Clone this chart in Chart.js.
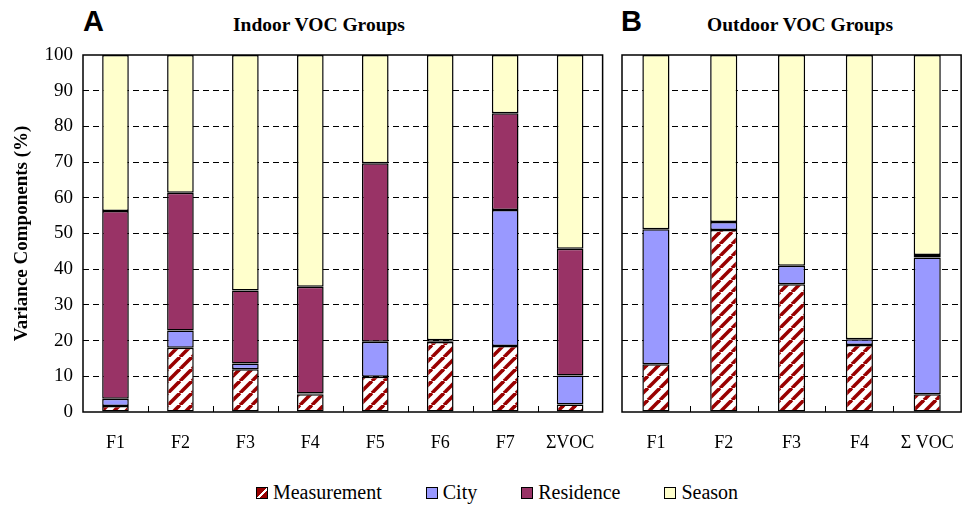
<!DOCTYPE html>
<html>
<head>
<meta charset="utf-8">
<script src="https://cdn.jsdelivr.net/npm/chart.js@4.4.1/dist/chart.umd.min.js"></script>
<style>
  body { margin: 0; background: #fff; }
  #wrap { position: relative; width: 974px; height: 510px; background: #fff; overflow: hidden; }
  .box { position: absolute; }
  .letter { position: absolute; font: bold 29px "Liberation Sans", Arial, sans-serif; top: 5px; }
  .ttl { position: absolute; font: bold 19.5px "Liberation Serif", "Times New Roman", serif; top: 14px; white-space: nowrap; }
  #legend { position: absolute; left: 0; width: 974px; top: 481px; display: flex; justify-content: center; gap: 44px;
    font: 20px "Liberation Serif", "Times New Roman", serif; padding-left: 20px; box-sizing: border-box; }
  #legend .item { display: flex; align-items: center; gap: 5px; }
  #legend .sw { width: 10px; height: 10px; border: 1.5px solid #000; }
</style>
</head>
<body>
<div id="wrap">
  <div class="letter" style="left:83px">A</div>
  <div class="ttl" style="left:233px">Indoor VOC Groups</div>
  <div class="letter" style="left:621px">B</div>
  <div class="ttl" style="left:707px">Outdoor VOC Groups</div>
  <div class="box" style="left:0;top:33px;width:615px;height:427px"><canvas id="chartA"></canvas></div>
  <div class="box" style="left:612px;top:40px;width:362px;height:420px"><canvas id="chartB"></canvas></div>
  <div id="legend"></div>
</div>
<script>
const seriesNames = ["Measurement", "City", "Residence", "Season"];

const indoorLabels = ["F1", "F2", "F3", "F4", "F5", "F6", "F7", "ΣVOC"];
const indoorMeasurement = [1.7, 18.0, 12.0, 5.0, 9.9, 19.6, 18.5, 2.1];
const indoorCity = [2.0, 4.8, 1.6, 0.2, 9.8, 0.1, 38.1, 8.1];
const indoorResidence = [52.6, 38.6, 20.4, 29.9, 50.0, 0.4, 27.1, 35.5];
const indoorSeason = [43.7, 38.6, 66.0, 64.9, 30.3, 79.9, 16.3, 54.3];

const outdoorLabels = ["F1", "F2", "F3", "F4", "Σ VOC"];
const outdoorMeasurement = [13.4, 51.0, 35.8, 18.8, 5.0];
const outdoorCity = [37.8, 2.2, 5.2, 1.6, 38.3];
const outdoorResidence = [0, 0, 0, 0, 0.7];
const outdoorSeason = [48.8, 46.8, 59.0, 79.6, 56.0];

const yTicks = [0, 10, 20, 30, 40, 50, 60, 70, 80, 90, 100];

const colCity = "#9999ff";
const colRes = "#993366";
const colSeason = "#ffffcc";
const colHatch = "#990000";
const serif = "'Liberation Serif', 'Times New Roman', serif";

function makeHatch() {
  const s = 12;
  const c = document.createElement("canvas");
  c.width = c.height = s;
  const g = c.getContext("2d");
  g.fillStyle = "#fff";
  g.fillRect(0, 0, s, s);
  g.strokeStyle = colHatch;
  g.lineWidth = 3.6;
  for (const o of [-s, 0, s]) {
    g.beginPath();
    g.moveTo(o, s);
    g.lineTo(o + s, 0);
    g.stroke();
  }
  return g.createPattern(c, "repeat");
}
const hatch = makeHatch();

// frame round the plot + small inner ticks between categories
const framePlugin = {
  id: "frame",
  afterDatasetsDraw(chart) {
    const { ctx, chartArea: a, scales: { x } } = chart;
    ctx.save();
    ctx.strokeStyle = "#000";
    ctx.lineWidth = 1.5;
    ctx.strokeRect(a.left, a.top, a.right - a.left, a.bottom - a.top);
    ctx.lineWidth = 1;
    ctx.beginPath();
    const n = chart.data.labels.length;
    for (let i = 0; i < n - 1; i++) {
      const px = Math.round((x.getPixelForValue(i) + x.getPixelForValue(i + 1)) / 2) + 0.5;
      ctx.moveTo(px, a.bottom);
      ctx.lineTo(px, a.bottom - 6);
    }
    ctx.stroke();
    ctx.restore();
  }
};

function makeDatasets(m, c, r, s, bp) {
  const base = { borderColor: "#000", borderWidth: 1.5, borderSkipped: false, barPercentage: bp, categoryPercentage: 1 };
  return [
    { ...base, label: seriesNames[0], data: m, backgroundColor: hatch },
    { ...base, label: seriesNames[1], data: c, backgroundColor: colCity },
    { ...base, label: seriesNames[2], data: r, backgroundColor: colRes },
    { ...base, label: seriesNames[3], data: s, backgroundColor: colSeason }
  ];
}

function makeChart(id, labels, datasets, showY, padding, yWidth) {
  return new Chart(document.getElementById(id), {
    type: "bar",
    data: { labels, datasets },
    plugins: [framePlugin],
    options: {
      responsive: true,
      maintainAspectRatio: false,
      animation: false,
      layout: { padding, autoPadding: false },
      plugins: { legend: { display: false }, tooltip: { enabled: false } },
      scales: {
        x: {
          stacked: true,
          grid: { display: false, drawTicks: false },
          border: { display: false },
          afterFit: (ax) => { ax.height = 48; },
          ticks: { color: "#000", padding: 20, maxRotation: 0, font: { family: serif, size: 18 } }
        },
        y: {
          stacked: true,
          min: 0,
          max: 100,
          afterBuildTicks: (ax) => { ax.ticks = yTicks.map(v => ({ value: v })); },
          afterFit: (ax) => { ax.width = yWidth; },
          grid: {
            drawTicks: false,
            lineWidth: 1,
            color: (c) => (c.tick && c.tick.value > 0 && c.tick.value < 100) ? "#000" : "rgba(0,0,0,0)"
          },
          border: { display: false, dash: [6, 4] },
          ticks: { display: showY, color: "#000", padding: 10, font: { family: serif, size: 19 } },
          title: {
            display: showY,
            text: "Variance Components (%)",
            color: "#000",
            padding: { top: 0, bottom: 12 },
            font: { family: serif, size: 19, weight: "bold" }
          }
        }
      }
    }
  });
}

makeChart("chartA", indoorLabels,
  makeDatasets(indoorMeasurement, indoorCity, indoorResidence, indoorSeason, 0.41),
  true, { top: 22, right: 10, left: 11, bottom: 0 }, 72);
makeChart("chartB", outdoorLabels,
  makeDatasets(outdoorMeasurement, outdoorCity, outdoorResidence, outdoorSeason, 0.4),
  false, { top: 15, right: 3, left: 10, bottom: 0 }, 0);

// legend
const legend = document.getElementById("legend");
const swatches = [
  "linear-gradient(135deg, " + colHatch + " 0 45%, #fff 45% 60%, " + colHatch + " 60% 100%)",
  colCity, colRes, colSeason
];
seriesNames.forEach((name, i) => {
  const item = document.createElement("div");
  item.className = "item";
  const sw = document.createElement("div");
  sw.className = "sw";
  sw.style.background = swatches[i];
  const t = document.createElement("span");
  t.textContent = name;
  item.appendChild(sw);
  item.appendChild(t);
  legend.appendChild(item);
});
</script>
</body>
</html>
